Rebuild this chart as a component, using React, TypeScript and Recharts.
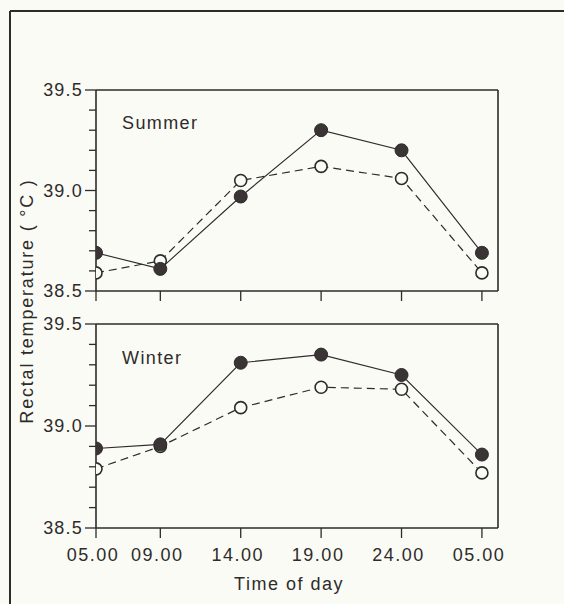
import React from 'react';
import { LineChart, Line, XAxis, YAxis, ReferenceLine } from 'recharts';

// ---- data ----
const hours = [5, 9, 14, 19, 24, 29];
const timeLabels = ['05.00', '09.00', '14.00', '19.00', '24.00', '05.00'];
const summerFilled = [38.69, 38.61, 38.97, 39.30, 39.20, 38.69];
const summerOpen = [38.59, 38.65, 39.05, 39.12, 39.06, 38.59];
const winterFilled = [38.89, 38.91, 39.31, 39.35, 39.25, 38.86];
const winterOpen = [38.79, 38.90, 39.09, 39.19, 39.18, 38.77];
const yTicks = [38.5, 38.6, 38.7, 38.8, 38.9, 39.0, 39.1, 39.2, 39.3, 39.4, 39.5];
const yMajor = [38.5, 39.0, 39.5];
const panelNames = ['Summer', 'Winter'];
const yTitle = 'Rectal temperature ( °C )';
const xTitle = 'Time of day';

const BG = '#fbfbf5';
const INK = '#2e2b2b';
const DOT = '#3a3434';
const FONT = '"Liberation Sans", Arial, Helvetica, sans-serif';

const build = (filled: number[], open: number[]) =>
  hours.map((h, i) => ({ h, filled: filled[i], open: open[i] }));

const summerData = build(summerFilled, summerOpen);
const winterData = build(winterFilled, winterOpen);

const YTick = (props: any) => {
  const { x, y, payload } = props;
  const v = payload.value;
  const major = yMajor.some((m) => Math.abs(m - v) < 1e-6);
  const ax = x + 10; // axis line position (tickSize 0 + margin)
  return (
    <g>
      <line x1={ax - (major ? 11 : 7)} x2={ax} y1={y} y2={y} stroke={INK} strokeWidth={1.3} />
      {major && (
        <text x={ax - 13} y={y} dy="0.36em" textAnchor="end" fontSize={18} fill={INK}
          fontFamily={FONT} letterSpacing={1.2}>
          {v.toFixed(1)}
        </text>
      )}
    </g>
  );
};

const XTick = (props: any) => {
  const { x, y, payload, index, showLabel } = props;
  const top = y - 10;
  return (
    <g>
      <line x1={x} x2={x} y1={top} y2={top + 10} stroke={INK} strokeWidth={1.3} />
      {showLabel && (
        <text x={x - 3} y={top + 20} dy="0.71em" textAnchor="middle" fontSize={18} fill={INK}
          fontFamily={FONT} letterSpacing={1.5}>
          {timeLabels[index] ?? payload.value}
        </text>
      )}
    </g>
  );
};

const OpenDot = (props: any) => {
  const { cx, cy } = props;
  if (cx == null || cy == null) return null;
  return <circle cx={cx} cy={cy} r={6} fill={BG} stroke={INK} strokeWidth={1.6} />;
};
const FilledDot = (props: any) => {
  const { cx, cy } = props;
  if (cx == null || cy == null) return null;
  return <circle cx={cx} cy={cy} r={6.5} fill={DOT} stroke={INK} strokeWidth={1} />;
};

const Panel = ({ data, top, height, marginTop, xAxisHeight, showLabels }: any) => (
  <div style={{ position: 'absolute', left: 0, top, width: 564, height }}>
    <LineChart width={564} height={height} data={data}
      margin={{ top: marginTop, right: 66, bottom: 0, left: 0 }}>
      <XAxis dataKey="h" type="number" domain={[5, 30]} ticks={hours} allowDataOverflow
        height={xAxisHeight} axisLine={{ stroke: INK, strokeWidth: 1.6 }} tickLine={false}
        tickSize={10} tickMargin={0}
        tick={(p: any) => <XTick {...p} showLabel={showLabels} />} interval={0} />
      <YAxis type="number" domain={[38.5, 39.5]} ticks={yTicks} allowDataOverflow width={96}
        axisLine={{ stroke: INK, strokeWidth: 1.6 }} tickLine={false} tickSize={0} tickMargin={10}
        tick={YTick} interval={0} />
      <ReferenceLine y={39.5} stroke={INK} strokeWidth={1.6} />
      <ReferenceLine x={30} stroke={INK} strokeWidth={1.6} />
      <Line dataKey="open" stroke={INK} strokeWidth={1.2} strokeDasharray="8 5"
        dot={<OpenDot />} isAnimationActive={false} />
      <Line dataKey="filled" stroke={INK} strokeWidth={1.1}
        dot={<FilledDot />} isAnimationActive={false} />
    </LineChart>
  </div>
);

export default function App() {
  return (
    <div style={{ position: 'absolute', left: 0, top: 0, width: 564, height: 604, background: BG, overflow: 'hidden' }}>
      <svg width={564} height={604} style={{ position: 'absolute', left: 0, top: 0 }}>
        <line x1={10} y1={11} x2={564} y2={11} stroke={INK} strokeWidth={2} />
        <line x1={10} y1={11} x2={10} y2={604} stroke={INK} strokeWidth={2} />
        <text transform="translate(33,301) rotate(-90)" textAnchor="middle" fontSize={18}
          fill={INK} fontFamily={FONT} letterSpacing={1.8}>{yTitle}</text>
        <text x={122} y={129} fontSize={18} fill={INK} fontFamily={FONT} letterSpacing={1.4}>{panelNames[0]}</text>
        <text x={122} y={364} fontSize={18} fill={INK} fontFamily={FONT} letterSpacing={1.4}>{panelNames[1]}</text>
        <text x={289} y={590} textAnchor="middle" fontSize={18} fill={INK} fontFamily={FONT} letterSpacing={1.5}>{xTitle}</text>
      </svg>
      <Panel data={summerData} top={0} height={311} marginTop={90} xAxisHeight={20} showLabels={false} />
      <Panel data={winterData} top={300} height={304} marginTop={24} xAxisHeight={76} showLabels={true} />
    </div>
  );
}
